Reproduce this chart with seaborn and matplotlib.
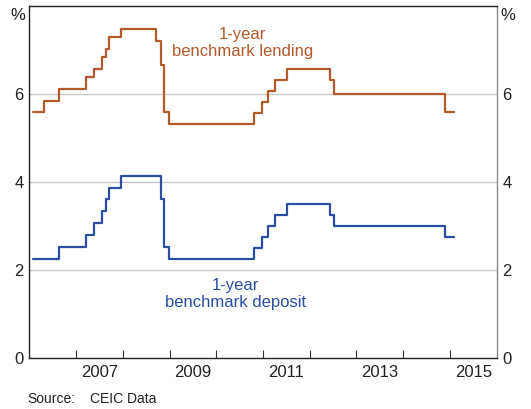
import matplotlib
matplotlib.use("Agg")
import matplotlib.pyplot as plt
import seaborn as sns
import pandas as pd
import numpy as np

# Step-change dates and rates (%)
lending_dates = ["2006-02-01", "2006-04-28", "2006-08-19", "2007-03-18", "2007-05-19",
                 "2007-07-21", "2007-08-22", "2007-09-15", "2007-12-21", "2008-09-16",
                 "2008-10-30", "2008-11-20", "2008-12-31", "2010-10-20", "2010-12-26",
                 "2011-02-09", "2011-04-06", "2011-07-07", "2012-06-08", "2012-07-06",
                 "2014-11-22", "2015-01-31"]
lending_rates = [5.58, 5.85, 6.12, 6.39, 6.57, 6.84, 7.02, 7.29, 7.47, 7.20,
                 6.66, 5.58, 5.31, 5.56, 5.81, 6.06, 6.31, 6.56, 6.31, 6.00,
                 5.60, 5.60]

deposit_dates = ["2006-02-01", "2006-08-19", "2007-03-18", "2007-05-19", "2007-07-21",
                 "2007-08-22", "2007-09-15", "2007-12-21", "2008-10-30", "2008-11-20",
                 "2008-12-31", "2010-10-20", "2010-12-26", "2011-02-09", "2011-04-06",
                 "2011-07-07", "2012-06-08", "2012-07-06", "2014-11-22", "2015-01-31"]
deposit_rates = [2.25, 2.52, 2.79, 3.06, 3.33, 3.60, 3.87, 4.14, 3.60, 2.52,
                 2.25, 2.50, 2.75, 3.00, 3.25, 3.50, 3.25, 3.00, 2.75, 2.75]

year_labels = ["2007", "2009", "2011", "2013", "2015"]
y_ticks = [0, 2, 4, 6]


def to_decimal_year(dates):
    d = pd.to_datetime(pd.Series(dates))
    start = pd.to_datetime(d.dt.year.astype(str) + "-01-01")
    end = pd.to_datetime((d.dt.year + 1).astype(str) + "-01-01")
    return d.dt.year + (d - start) / (end - start)


lend_df = pd.DataFrame({"t": to_decimal_year(lending_dates), "rate": lending_rates})
dep_df = pd.DataFrame({"t": to_decimal_year(deposit_dates), "rate": deposit_rates})

sns.set_theme(style="white")
plt.rcParams["font.family"] = ["Liberation Sans", "DejaVu Sans"]

LEND = "#b35a2a"
DEP = "#2a4ea2"
TXT = "#222222"

fig = plt.figure(figsize=(5.31, 4.09), dpi=100)
ax = fig.add_axes([29.3 / 531, 1 - 357.7 / 409, (496.7 - 29.3) / 531, (357.7 - 6) / 409])

for v in y_ticks[1:]:
    ax.axhline(v, color="#c8c8c8", lw=1.0, zorder=0)

sns.lineplot(data=lend_df, x="t", y="rate", ax=ax, color=LEND, lw=1.6,
             drawstyle="steps-post", legend=False)
sns.lineplot(data=dep_df, x="t", y="rate", ax=ax, color=DEP, lw=1.6,
             drawstyle="steps-post", legend=False)

ax.set_xlim(2006, 2016)
ax.set_ylim(0, 8)
ax.set_xlabel("")
ax.set_ylabel("")

# major ticks: labels mid-year, minor ticks: year boundaries
ax.set_xticks([int(y) + 0.5 for y in year_labels])
ax.set_xticklabels(year_labels)
ax.set_xticks(np.arange(2007, 2016), minor=True)
ax.tick_params(axis="x", which="major", length=0, pad=5, labelsize=12, labelcolor=TXT)
ax.tick_params(axis="x", which="minor", direction="in", length=6, width=0.8,
               color="#333333", bottom=True)

ax.set_yticks(y_ticks)
ax.set_yticklabels([str(v) for v in y_ticks])
ax.tick_params(axis="y", which="major", length=0, pad=4, labelsize=12, labelcolor=TXT,
               labelleft=True, labelright=True)

for side in ["left", "top", "bottom"]:
    ax.spines[side].set_color("#222222")
    ax.spines[side].set_linewidth(1.0)
ax.spines["right"].set_color("#888888")
ax.spines["right"].set_linewidth(1.0)

fig.text(25 / 531, 1 - 15 / 409, "%", ha="right", va="center", fontsize=12, color=TXT)
fig.text(500 / 531, 1 - 15 / 409, "%", ha="left", va="center", fontsize=12, color=TXT)

ax.text(2010.57, 7.16, "1-year\nbenchmark lending", color=LEND, ha="center", va="center",
        fontsize=12, linespacing=1.15)
ax.text(2010.41, 1.45, "1-year\nbenchmark deposit", color=DEP, ha="center", va="center",
        fontsize=12, linespacing=1.15)

fig.text(27 / 531, 1 - 399 / 409, "Source:", ha="left", va="center", fontsize=10, color=TXT)
fig.text(90 / 531, 1 - 399 / 409, "CEIC Data", ha="left", va="center", fontsize=10, color=TXT)

fig.savefig("out.png", dpi=100)
